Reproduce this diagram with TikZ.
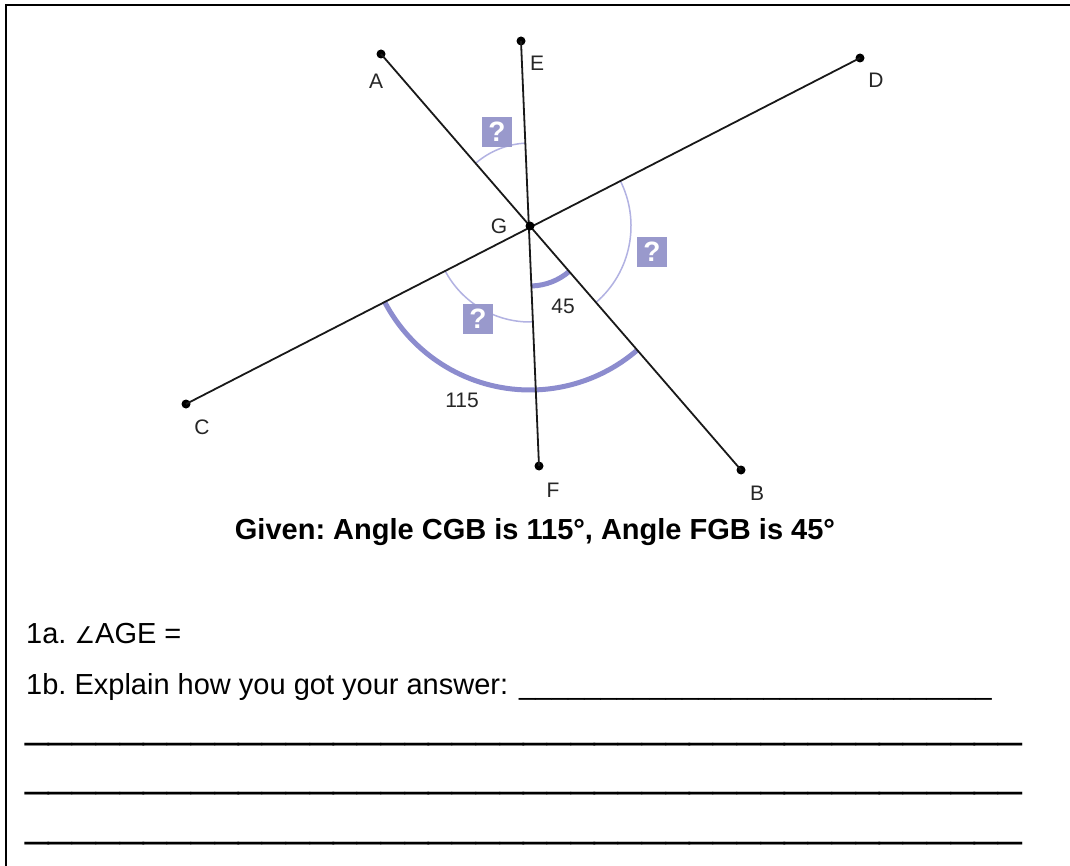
\documentclass[tikz,border=0pt]{standalone}
\usepackage{fontspec}
\setmainfont{Liberation Sans}
\newfontfamily\dejavu{DejaVu Sans}
\usetikzlibrary{calc}
\definecolor{boxc}{RGB}{153,153,204}
\definecolor{thinarcc}{RGB}{178,178,226}
\definecolor{thickarcc}{RGB}{140,140,206}
\def\usc{\_\_\_\_\_\_\_\_\_\_}
\frenchspacing
\begin{document}
\begin{tikzpicture}[x=1pt,y=-1pt,
  seg/.style={line width=1.8pt, black!90},
  dot/.style={circle, fill=black, inner sep=0pt, minimum size=9pt},
  lbl/.style={font=\fontsize{21}{24}\selectfont, text=black!85, inner sep=0pt},
  qbox/.style={fill=boxc, minimum size=30pt, inner sep=0pt, text=white, font=\fontsize{28}{28}\selectfont\bfseries},
  thinarc/.style={draw=thinarcc, line width=1.5pt},
  thickarc/.style={draw=thickarcc, line width=5pt},
  body/.style={font=\fontsize{29}{34}\selectfont, inner sep=0pt, anchor=base west},
  ]
\useasboundingbox (0,0) rectangle (1070,866);
\fill[white] (0,0) rectangle (1070,866);
\draw[line width=2pt] (6,866) -- (6,5) -- (1070,5);

% points
\node[dot] (A) at (381,54) {};
\node[dot] (E) at (521,41) {};
\node[dot] (D) at (860,58) {};
\node[dot] (C) at (186,404) {};
\node[dot] (F) at (539,466) {};
\node[dot] (B) at (741,470) {};
\coordinate (G) at (530,226);

% arcs
\draw[thinarc] ($(G)+(93.1:83pt)$) arc[start angle=93.1, end angle=130.9, radius=83pt];
\draw[thinarc] ($(G)+(27:101pt)$) arc[start angle=27, end angle=-49.2, radius=101pt];
\draw[thinarc] ($(G)+(207.4:96pt)$) arc[start angle=207.4, end angle=271.9, radius=96pt];
\draw[thickarc] ($(G)+(271.9:60pt)$) arc[start angle=271.9, end angle=310.8, radius=60pt];
\draw[thickarc] ($(G)+(207.4:164pt)$) arc[start angle=207.4, end angle=310.8, radius=164pt];

% lines
\draw[seg] (A.center) -- (B.center);
\draw[seg] (E.center) -- (F.center);
\draw[seg] (C.center) -- (D.center);
\node[dot] (Gd) at (G) {};

% labels
\node[lbl] (lA) at (376,81) {A};
\node[lbl] (lE) at (537,63) {E};
\node[lbl] (lD) at (876,80) {D};
\node[lbl] (lG) at (499,226) {G};
\node[lbl] (lC) at (202,427) {C};
\node[lbl] (lF) at (553,490) {F};
\node[lbl] (lB) at (757,493) {B};
\node[lbl] (l45) at (563,306) {45};
\node[lbl] (l115) at (462,400) {115};

% question boxes
\node[qbox] (q1) at (497,132) {?};
\node[qbox] (q2) at (652,252) {?};
\node[qbox] (q3) at (478,319) {?};

% text
\node[body, font=\fontsize{29}{34}\selectfont\bfseries, anchor=base] (given) at (535,539) {Given: Angle CGB is 115°, Angle FGB is 45°};
\node[body] (t1a) at (26,643) {1a. {\dejavu\fontsize{23}{28}\selectfont ∠}AGE =};
\node[body] (t1b) at (26,694) {1b. Explain how you got your answer:\hspace{11pt}{\fontsize{29.3}{34}\selectfont\usc\usc\_\_\_\_\_\_\_\_\_}};
\node[body, font=\fontsize{42.7}{48}\selectfont] (w1) at (25,737) {\usc\usc\usc\usc\_\_};
\node[body, font=\fontsize{42.7}{48}\selectfont] (w2) at (25,786) {\usc\usc\usc\usc\_\_};
\node[body, font=\fontsize{42.7}{48}\selectfont] (w3) at (25,836) {\usc\usc\usc\usc\_\_};
\end{tikzpicture}
\end{document}
